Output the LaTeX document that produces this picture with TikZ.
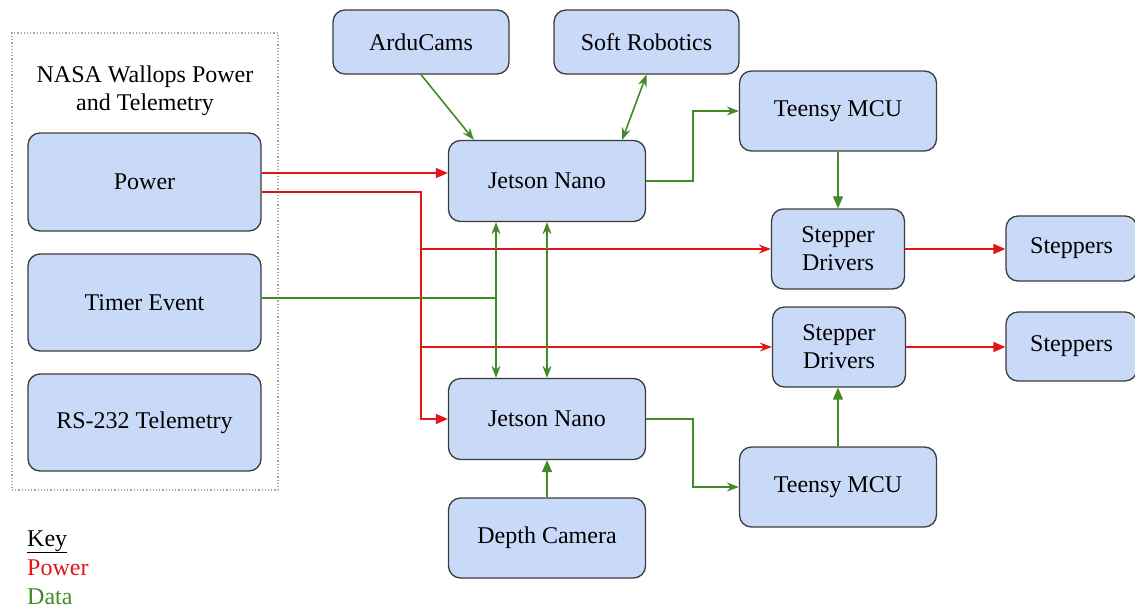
\documentclass[tikz,border=0pt]{standalone}
\usepackage{fontspec}
\setmainfont{Liberation Serif}
\usetikzlibrary{arrows.meta,calc}
\definecolor{boxblue}{RGB}{201,218,248}
\definecolor{pwred}{RGB}{228,20,20}
\definecolor{dtgreen}{RGB}{64,138,40}
\definecolor{edge}{RGB}{60,60,60}
\tikzset{
  box/.style={draw=edge, fill=boxblue, rounded corners=12pt, line width=1.3pt,
    align=center, inner sep=0pt, font=\fontsize{24}{28}\selectfont},
  pw/.style={draw=pwred, line width=1.6pt},
  dt/.style={draw=dtgreen, line width=1.6pt},
  tri/.style={-{Triangle[length=12pt,width=10pt]}},
  stl/.style={-{Stealth[length=12pt,width=9pt,inset=4pt]}},
  bistl/.style={{Stealth[length=12pt,width=9pt,inset=4pt]}-{Stealth[length=12pt,width=9pt,inset=4pt]}},
  lbl/.style={font=\fontsize{24}{28}\selectfont, inner sep=0pt, align=center}
}
\begin{document}
\begin{tikzpicture}[x=1pt,y=-1pt]
\useasboundingbox (0,0) rectangle (1135,611);
% container
\node[draw=gray!70, dotted, line width=1.2pt, minimum width=266pt, minimum height=457pt, inner sep=0pt] (nasa) at (145,261.5) {};
\node[lbl] (title) at (145,91) {NASA Wallops Power\\and Telemetry};
\node[box, minimum width=233pt, minimum height=98pt] (power) at (144.5,182) {Power};
\node[box, minimum width=233pt, minimum height=97pt] (timer) at (144.5,302.5) {Timer Event};
\node[box, minimum width=233pt, minimum height=97pt] (rs) at (144.5,422.5) {RS-232 Telemetry};
% top row
\node[box, minimum width=176pt, minimum height=64pt] (ardu) at (421,42) {ArduCams};
\node[box, minimum width=185pt, minimum height=64pt] (soft) at (646.5,42) {Soft Robotics};
% jetsons
\node[box, minimum width=197pt, minimum height=81pt] (jet1) at (547,181) {Jetson Nano};
\node[box, minimum width=197pt, minimum height=81pt] (jet2) at (547,419) {Jetson Nano};
\node[box, minimum width=197pt, minimum height=80pt] (depth) at (547,538) {Depth Camera};
% teensy
\node[box, minimum width=197pt, minimum height=80pt] (teensy1) at (838,111) {Teensy MCU};
\node[box, minimum width=197pt, minimum height=80pt] (teensy2) at (838,487) {Teensy MCU};
% drivers
\node[box, minimum width=133pt, minimum height=80pt] (sd1) at (838,249) {Stepper\\Drivers};
\node[box, minimum width=133pt, minimum height=80pt] (sd2) at (839,347) {Stepper\\Drivers};
% steppers
\node[box, minimum width=131pt, minimum height=65pt] (st1) at (1071.5,248.5) {Steppers};
\node[box, minimum width=131pt, minimum height=69pt] (st2) at (1071.5,346.5) {Steppers};
% key
\node[lbl, anchor=base west] (key) at (27,546) {\underline{Key}};
\node[lbl, anchor=base west, text=pwred] (keyp) at (27,575) {Power};
\node[lbl, anchor=base west, text=dtgreen] (keyd) at (27,604) {Data};
% helper coordinates
\coordinate (pb) at (421,0);
\coordinate (tj) at (496,298);
\coordinate (tx) at (693,0);
\coordinate (pa) at (power.east |- 0,173);
\coordinate (pc) at (power.east |- 0,192);
% power connectors
\draw[pw,tri] (pa) -- (pa -| jet1.west);
\draw[pw,tri] (pc) -| (pb |- jet2.west) -- (jet2.west);
\draw[pw,stl] (pb |- sd1.west) -- (sd1.west);
\draw[pw,stl] (pb |- sd2.west) -- (sd2.west);
\draw[pw,tri] (sd1.east) -- (st1.west |- sd1.east);
\draw[pw,tri] (sd2.east) -- (st2.west |- sd2.east);
% data connectors
\draw[dt] (timer.east |- tj) -- (tj);
\draw[dt,stl] (tj) -- (tj |- jet1.south);
\draw[dt,stl] (tj) -- (tj |- jet2.north);
\draw[dt,bistl] (jet1.south) -- (jet2.north);
\draw[dt,stl] (ardu.south) -- ([xshift=26pt]jet1.north west);
\draw[dt,bistl] (soft.south) -- ([xshift=-24pt]jet1.north east);
\draw[dt,stl] (jet1.east) -- (tx |- jet1.east) |- (teensy1.west);
\draw[dt,tri] (teensy1.south) -- (sd1.north);
\draw[dt,stl] (jet2.east) -- (tx |- jet2.east) |- (teensy2.west);
\draw[dt,tri] (teensy2.north) -- (teensy2.north |- sd2.south);
\draw[dt,tri] (depth.north) -- (jet2.south);
\end{tikzpicture}
\end{document}
